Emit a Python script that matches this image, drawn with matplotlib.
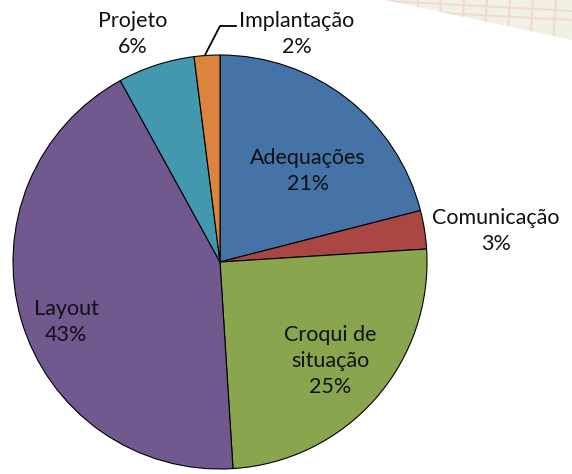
import matplotlib
matplotlib.use("Agg")
import matplotlib.pyplot as plt
from matplotlib.patches import Polygon

labels = ["Adequações", "Comunicação", "Croqui de\nsituação", "Layout", "Projeto", "Implantação"]
shares = [21, 3, 25, 43, 6, 2]
colors = ["#4572A7", "#AA4643", "#89A54E", "#71588F", "#4198AF", "#DB843D"]

W, H = 572, 474
fig = plt.figure(figsize=(W / 100, H / 100), dpi=100)
ax = fig.add_axes([0, 0, 1, 1])

# faint slide background corner (grid paper) in top right
corner = Polygon([(385, H), (W, H), (W, H - 40)], closed=True,
                 facecolor="#F1F0E2", edgecolor="none", zorder=0)
ax.add_patch(corner)
for x0 in range(395, W + 20, 23):
    ln, = ax.plot([x0, x0 - 3], [H, H - 45], color="#F2D9D6", lw=1.6, zorder=0)
    ln.set_clip_path(corner)
for yy in (H - 3, H - 12):
    ln, = ax.plot([385, W], [yy + 2, yy - 8], color="#F2D9D6", lw=1.4, zorder=0)
    ln.set_clip_path(corner)

cx, cy, r = 220, H - 262, 207
ax.pie(shares, colors=colors, startangle=90, counterclock=False,
       center=(cx, cy), radius=r, frame=True,
       wedgeprops=dict(edgecolor="black", linewidth=0.8))
ax.set_xlim(0, W)
ax.set_ylim(0, H)
ax.set_aspect("equal")
ax.axis("off")

font = dict(family=["Lato", "DejaVu Sans"], fontsize=15.5,
            color="#111111", ha="center", va="center", linespacing=1.4)
pos = [(308, H - 171), (496, H - 231), (330, H - 361), (66, H - 322), (133, H - 34), (297, H - 34)]
for lbl, s, (x, y) in zip(labels, shares, pos):
    ax.text(x, y, f"{lbl}\n{s}%", **font)

# leader line for Implantação
ax.plot([205, 220, 236], [H - 55, H - 26, H - 26], color="black", lw=1.3)

fig.savefig("out.png", dpi=100, facecolor="white")
